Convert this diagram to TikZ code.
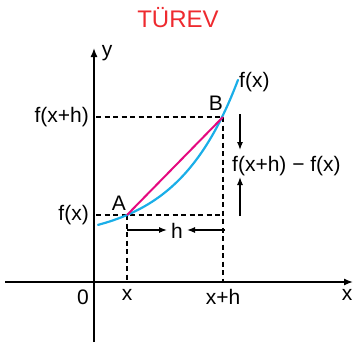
\documentclass[tikz,border=0pt]{standalone}
\usepackage{fontspec}
\setmainfont{Liberation Sans}
\usetikzlibrary{arrows.meta}
\definecolor{curveblue}{HTML}{1AAEE8}
\definecolor{secantpink}{HTML}{E5097F}
\definecolor{titlered}{HTML}{EE2A2F}
\begin{document}
\begin{tikzpicture}[x=1pt,y=-1pt,
  lbl/.style={font=\fontsize{21}{23}\selectfont, inner sep=0pt},
  axisline/.style={line width=1.4pt, -{Latex[length=9pt,width=7pt]}},
  guide/.style={line width=1.2pt, dash pattern=on 5pt off 3.5pt},
  hint/.style={line width=1.3pt, -{Latex[length=8pt,width=6pt]}}]
\useasboundingbox (0,0) rectangle (353,346);
% coordinates
\coordinate (A) at (127,215);
\coordinate (B) at (223,117);
\coordinate (ytop) at (94,48);
\coordinate (ybot) at (94,342);
\coordinate (xl) at (5,282);
\coordinate (xr) at (353,282);
\coordinate (Ax) at (127,282);
\coordinate (Bx) at (223,282);
\coordinate (Ay) at (96,215);
\coordinate (By) at (96,117);
% title
\node[lbl, text=titlered, font=\fontsize{24}{26}\selectfont] (title) at (178,18) {TÜREV};
% axes
\draw[axisline] (ybot) -- (ytop);
\draw[axisline] (xl) -- (xr);
% dashed guides
\draw[guide] (By) -- (B);
\draw[guide] (Ay) -- (A) -- (223,215);
\draw[guide] (A) -- (Ax);
\draw[guide] (B) -- (Bx);
% curve
\draw[curveblue, line width=2.2pt, line cap=round] plot[domain=98:238, samples=60, smooth] (\x, {241.1-26.1*exp(0.0164*(\x-127))});
% secant
\draw[secantpink, line width=2pt] (A) -- (B);
% h arrows
\coordinate (h1s) at (127,230);
\coordinate (h1e) at (167,230);
\coordinate (h2s) at (225,230);
\coordinate (h2e) at (187,230);
\draw[hint] (h1s) -- (h1e);
\draw[hint] (h2s) -- (h2e);
\node[lbl] (hl) at (177,231) {h};
% vertical arrows
\coordinate (v1s) at (240,114);
\coordinate (v1e) at (240,150);
\coordinate (v2s) at (240,216);
\coordinate (v2e) at (240,177);
\draw[hint] (v1s) -- (v1e);
\draw[hint] (v2s) -- (v2e);
\node[lbl, anchor=west] (dl) at (232,166) {f(x+h) − f(x)};
% labels
\node[lbl, anchor=east] (fxh) at (89,117) {f(x+h)};
\node[lbl, anchor=east] (fx) at (89,215) {f(x)};
\node[lbl] (Al) at (119,203) {A};
\node[lbl] (Bl) at (216,103) {B};
\node[lbl, anchor=west] (fxc) at (239,82) {f(x)};
\node[lbl] (yl) at (107,53) {y};
\node[lbl] (xlab) at (347,295) {x};
\node[lbl] (zero) at (83,297) {0};
\node[lbl] (xt) at (127,295) {x};
\node[lbl] (xht) at (223,297) {x+h};
\end{tikzpicture}
\end{document}
